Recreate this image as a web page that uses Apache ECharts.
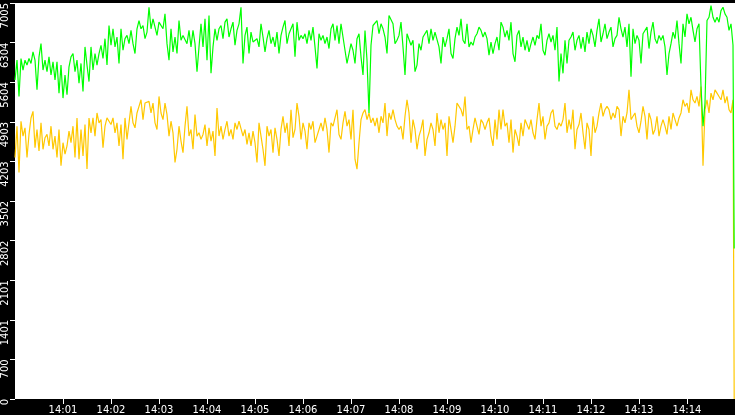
<!DOCTYPE html>
<html><head><meta charset="utf-8">
<script src="https://cdn.jsdelivr.net/npm/echarts@6/dist/echarts.min.js"></script>
<style>html,body{margin:0;padding:0;background:#000}#c{width:735px;height:415px}</style>
</head><body><div id="c"></div>
<script>
// sample spacing in seconds after 14:00:00
const SAMPLE_STEP = 2.5;
const LAST_SAMPLE_TIME = 899;

const greenValues = [
5644,5994,5352,6023,5819,5994,5907,6023,5936,6140,5994,5469,6053,6286,5819,5994,5790,6053,5731,5965,5644,5965,5410,5907,5323,5731,5381,5877,6053,6111,5790,5994,5585,5936,5439,6228,5907,5615,6228,5819,6111,5907,6111,6257,6023,6374,5907,6607,6257,6549,6228,6403,5936,6549,6169,6374,6432,6286,6520,6286,
6111,6549,6695,6549,6607,6374,6491,6929,6549,6724,6753,6432,6666,6637,6549,6812,6286,5994,6549,6140,6403,6111,6695,6345,6432,6403,6286,6520,6228,6520,6286,5790,6228,6637,6228,6724,5994,6783,5761,6228,6549,6345,6549,6607,6374,6666,6724,6403,6549,6666,6257,6520,6637,6929,5936,6432,6578,6111,6491,6315,
6286,6374,6228,6637,6403,6140,6374,6520,6286,6403,6228,6491,6111,6432,6578,6695,6286,6461,6549,6637,6053,6666,6345,6432,6374,6461,6286,6520,6345,6578,6228,5848,6461,6345,6432,6286,6403,6199,6549,6637,6345,6607,6286,6637,6403,6169,5936,6111,6286,6169,5936,6374,6461,6053,5731,6520,5994,5060,6257,6607,
6607,6695,6461,6637,6549,6403,6111,6783,6812,6637,6286,6345,6432,6666,6228,5731,6461,6432,6257,6345,5790,5907,6286,6169,6403,6432,6520,6286,6549,6345,6491,6461,6228,5936,6403,6228,6374,6549,6111,6023,6374,6578,6432,6724,6345,6286,6637,6228,6315,6257,6403,6461,6578,6520,6403,6491,6374,6082,6315,6111,
6286,6403,6169,6666,6578,6403,6520,6345,6666,6111,5965,6432,6520,6228,6403,6169,6345,6140,6286,6403,6257,6432,6374,6637,6169,6082,6345,6461,6315,6432,6169,6578,5615,6111,5761,6345,5936,6345,6403,6491,6169,6345,6432,6199,6403,6140,6491,6286,6549,6432,6228,6520,6724,6315,6461,6637,6374,6491,6578,6228,
6374,6432,6753,6549,6403,6578,6228,6637,5702,6549,6286,6432,6345,5936,6461,6432,6578,6199,6491,6666,6374,6286,6432,6345,6432,6228,5731,6111,6286,6491,6374,6695,6286,5936,6637,6403,6812,6637,6753,6520,6315,6549,6637,5527,4826,5235,6695,6753,6958,6753,6666,6753,6666,6870,6929,6812,6753,6520,6637,6257,
2662
];

const yellowValues = [
4271,4826,4009,4914,4651,4797,4271,4680,4971,5089,4447,4768,4388,4885,4417,4622,4680,4476,4826,4417,4651,4271,4768,4125,4534,4330,4476,4739,4534,4826,4271,4971,4242,4768,4301,4855,4067,4971,4709,4972,4651,5060,4885,4943,4447,4826,4972,4914,4855,4972,4709,4885,4476,4855,4242,4972,4593,4885,5177,4885,
4797,5060,5177,5293,4943,5235,5206,5264,5060,5235,4885,4768,5352,5060,4943,5235,5031,4651,4914,4709,4184,4417,4826,4563,4359,4826,5177,4651,4768,4417,5031,4651,4709,4593,4680,4855,4476,4797,4563,4739,4301,5147,4651,4826,4593,4768,4914,4651,4768,4593,4885,4768,4914,4943,4651,4768,4505,4709,4476,4739,
4534,4184,4885,4914,4417,4125,4826,4651,4768,4359,4797,4593,4301,4768,5001,4709,4885,4476,5118,4622,4768,5235,5001,4593,4885,4739,4417,4885,4768,4914,4534,4651,4768,4885,4739,4972,4768,4359,4885,4826,4972,5118,4680,4593,4885,5089,4826,4943,4593,5118,4242,4067,4534,4943,5060,5118,4943,5060,4885,4972,
4826,4972,4709,5001,4885,5235,4651,5060,4943,5118,4943,4826,4768,4826,4593,5001,5293,5060,4534,4943,4768,4417,4651,4768,4943,4301,4593,4709,4885,4768,4476,5060,4709,4943,4768,4885,4301,5001,4768,4534,4826,5235,5264,5118,5001,5352,4768,4826,4534,4768,4972,4826,4680,4943,4885,4768,4885,4972,4651,4476,
4943,4593,5118,4768,5118,4826,4885,4534,4943,4359,4768,4651,4476,4885,4651,4943,4972,4768,4943,4709,4593,4943,5235,4826,5001,4593,4826,4885,5060,5118,4826,4768,4885,4826,4943,5235,4709,4943,4768,5118,4417,4768,4855,5060,4709,4417,4885,4768,4301,5001,4709,4826,5060,5235,5001,5118,5177,5118,4943,5060,
4972,5177,5118,4651,5001,4885,5060,5469,4943,5001,5060,4826,4709,4914,5177,5001,4593,5060,4943,4680,4768,5001,4651,4826,4943,4826,4680,5001,4768,5060,4943,4826,4972,5060,5293,5177,5235,5060,5469,5293,5235,5352,5177,5527,4125,5118,5293,5060,5410,5293,5469,5410,5352,5293,5469,5235,5352,5118,5060,5293,
0
];

const xTickSeconds = [60,120,180,240,300,360,420,480,540,600,660,720,780,840];
const xTickLabels = ['14:01','14:02','14:03','14:04','14:05','14:06','14:07','14:08','14:09','14:10','14:11','14:12','14:13','14:14'];
const yTickLabels = ['0','700','1401','2101','2802','3502','4203','4903','5604','6304','7005'];

function toPairs(vals) {
  return vals.map((v, i) => [i === vals.length - 1 ? LAST_SAMPLE_TIME : i * SAMPLE_STEP, v]);
}

const chart = echarts.init(document.getElementById('c'), null, {renderer: 'canvas'});
const fontFamily = 'DejaVu Sans';
chart.setOption({
  animation: false,
  backgroundColor: '#000000',
  grid: {left: 15, right: 0, top: -1, bottom: 16, show: true, backgroundColor: '#ffffff', borderWidth: 0},
  xAxis: {
    type: 'value', min: 0, max: 900, interval: 60,
    splitLine: {show: false},
    axisLine: {show: false},
    axisTick: {show: true, length: 5, lineStyle: {color: '#ffffff', width: 1}, customValues: xTickSeconds},
    axisLabel: {
      color: '#ffffff', fontFamily: fontFamily, fontSize: 10, margin: 6,
      customValues: xTickSeconds,
      formatter: (v) => { const k = xTickSeconds.indexOf(Math.round(v)); return k >= 0 ? xTickLabels[k] : ''; }
    }
  },
  yAxis: {
    type: 'value', min: 0, max: 7005, interval: 700.5,
    splitLine: {show: false},
    axisLine: {show: false},
    axisTick: {show: true, length: 5, lineStyle: {color: '#ffffff', width: 1}},
    axisLabel: {
      color: '#ffffff', fontFamily: fontFamily, fontSize: 10, margin: 5,
      rotate: 90, align: 'right', verticalAlign: 'bottom',
      formatter: (v) => yTickLabels[Math.round(v / 700.5)]
    }
  },
  series: [
    {name: 'yellow', type: 'line', data: toPairs(yellowValues), symbol: 'none', showSymbol: false,
     lineStyle: {color: '#ffc800', width: 1.2}, itemStyle: {color: '#ffc800'}, clip: true},
    {name: 'green', type: 'line', data: toPairs(greenValues), symbol: 'none', showSymbol: false,
     lineStyle: {color: '#00ff00', width: 1.2}, itemStyle: {color: '#00ff00'}, clip: true}
  ]
});
</script></body></html>
